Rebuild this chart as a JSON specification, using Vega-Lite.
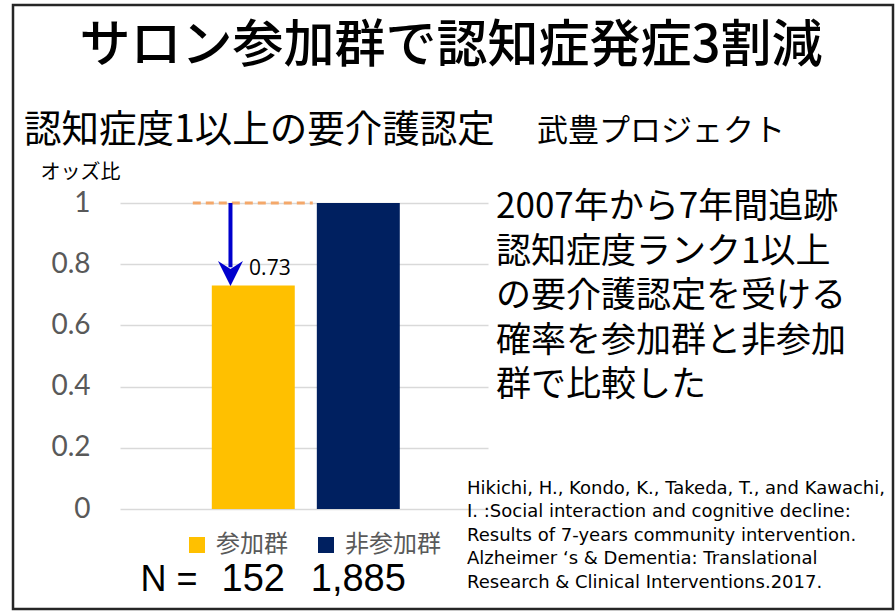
{
  "$schema": "https://vega.github.io/schema/vega-lite/v6.json",
  "autosize": "none",
  "width": 880,
  "height": 604,
  "padding": {"left": 13, "top": 5, "right": 2, "bottom": 2},
  "background": "white",
  "config": {
    "font": "Noto Sans CJK JP",
    "view": {"stroke": "#262626", "strokeWidth": 2.5}
  },
  "data": {"values": [
    {"group": "参加群", "n": "152", "odds": 0.73},
    {"group": "非参加群", "n": "1,885", "odds": 1}
  ]},
  "resolve": {"scale": {"x": "independent", "y": "independent"}},
  "layer": [
    {
      "layer": [
        {
          "mark": {"type": "bar"},
          "encoding": {
            "x": {
              "field": "n", "type": "nominal", "sort": null,
              "scale": {"domain": ["152", "1,885"], "range": [107, 475], "paddingInner": 0.21, "paddingOuter": 0.857, "align": 0.51},
              "axis": {
                "orient": "bottom", "offset": -100, "domain": false, "ticks": false, "grid": false,
                "labelAngle": 0, "labelPadding": 70, "labelBaseline": "middle",
                "labelFont": "Liberation Sans", "labelFontSize": 38, "labelColor": "#000000",
                "title": "N =", "titleFont": "Liberation Sans", "titleFontSize": 36, "titleFontWeight": "normal",
                "titleColor": "#000000", "titleAlign": "left", "titleBaseline": "middle", "titleAnchor": null,
                "titleX": 127, "titleY": 70
              }
            },
            "y": {
              "field": "odds", "type": "quantitative",
              "scale": {"domain": [0, 1], "range": [504, 198], "nice": false},
              "axis": {
                "orient": "left", "offset": -107, "values": [0, 0.2, 0.4, 0.6, 0.8, 1], "format": "~g",
                "domain": false, "ticks": false, "grid": true, "gridColor": "#D9D9D9", "gridWidth": 1.3,
                "labelPadding": 30, "labelFont": "Lato", "labelFontSize": 28, "labelColor": "#595959",
                "title": "オッズ比", "titleAngle": 0, "titleAlign": "left", "titleBaseline": "middle",
                "titleX": -80, "titleY": 167, "titleFont": "Noto Sans CJK JP", "titleFontSize": 20,
                "titleFontWeight": "normal", "titleColor": "#000000"
              }
            },
            "color": {
              "field": "group", "type": "nominal", "sort": null,
              "scale": {"domain": ["参加群", "非参加群"], "range": ["#FFC000", "#002060"]},
              "legend": {
                "orient": "none", "direction": "horizontal", "legendX": 172, "legendY": 528,
                "title": null, "symbolType": "square", "symbolSize": 256, "symbolStrokeWidth": 0,
                "labelFont": "Noto Sans CJK JP", "labelFontSize": 24, "labelColor": "#595959",
                "labelOffset": 7, "columnPadding": 26, "padding": 0
              }
            }
          }
        },
        {
          "data": {"values": [{}]},
          "mark": {"type": "rule", "color": "#F4A86A", "strokeWidth": 3, "strokeDash": [8, 5]},
          "encoding": {
            "x": {"datum": "152", "bandPosition": -0.229},
            "x2": {"datum": "152", "bandPosition": 1.217},
            "y": {"datum": 1}
          }
        },
        {
          "data": {"values": [{}]},
          "mark": {"type": "rule", "color": "#0000CD", "strokeWidth": 4},
          "encoding": {
            "x": {"datum": "152", "bandPosition": 0.225},
            "y": {"datum": 1},
            "y2": {"datum": 0.79}
          }
        },
        {
          "data": {"values": [{}]},
          "mark": {"type": "point", "shape": "M-1,-1L0,-0.35L1,-1L0,1Z", "filled": true, "size": 625, "color": "#0000CD", "opacity": 1},
          "encoding": {
            "x": {"datum": "152", "bandPosition": 0.225},
            "y": {"datum": 0.77}
          }
        },
        {
          "transform": [{"filter": "datum.group === '参加群'"}],
          "mark": {"type": "text", "dy": -17, "fontSize": 21, "font": "Open Sans", "color": "#000000", "baseline": "middle"},
          "encoding": {
            "x": {"field": "n", "type": "nominal", "bandPosition": 0.7},
            "y": {"field": "odds", "type": "quantitative"},
            "text": {"field": "odds", "type": "quantitative", "format": ".2f"}
          }
        }
      ]
    },
    {
      "layer": [
        {
          "data": {"values": [{}]},
          "mark": {"type": "text", "text": "サロン参加群で認知症発症3割減", "align": "center", "baseline": "middle", "fontSize": 51, "fontWeight": 500, "color": "#000000"},
          "encoding": {
            "x": {"datum": 0.4977, "type": "quantitative", "scale": {"domain": [0, 1]}, "axis": null},
            "y": {"datum": 0.0695, "type": "quantitative", "scale": {"domain": [0, 1], "reverse": true}, "axis": null}
          }
        },
        {
          "data": {"values": [{}]},
          "mark": {"type": "text", "text": "認知症度1以上の要介護認定", "align": "left", "baseline": "middle", "fontSize": 37.5, "color": "#000000"},
          "encoding": {
            "x": {"datum": 0.0125, "type": "quantitative"},
            "y": {"datum": 0.2086, "type": "quantitative"}
          }
        },
        {
          "data": {"values": [{}]},
          "mark": {"type": "text", "text": "武豊プロジェクト", "align": "left", "baseline": "middle", "fontSize": 31, "color": "#000000"},
          "encoding": {
            "x": {"datum": 0.5955, "type": "quantitative"},
            "y": {"datum": 0.211, "type": "quantitative"}
          }
        },
        {
          "data": {"values": [{}]},
          "mark": {"type": "text", "text": ["2007年から7年間追跡", "認知症度ランク1以上", "の要介護認定を受ける", "確率を参加群と非参加", "群で比較した"], "align": "left", "baseline": "top", "fontSize": 35, "lineHeight": 44.5, "color": "#000000"},
          "encoding": {
            "x": {"datum": 0.5489, "type": "quantitative"},
            "y": {"datum": 0.3063, "type": "quantitative"}
          }
        },
        {
          "data": {"values": [{}]},
          "mark": {"type": "text", "text": ["Hikichi, H., Kondo, K., Takeda, T., and Kawachi,", "I. :Social interaction and cognitive decline:", "Results of 7-years community intervention.", "Alzheimer ‘s & Dementia: Translational", "Research & Clinical Interventions.2017."], "align": "left", "baseline": "top", "font": "DejaVu Sans", "fontSize": 18, "lineHeight": 23.4, "color": "#000000"},
          "encoding": {
            "x": {"datum": 0.5159, "type": "quantitative"},
            "y": {"datum": 0.7864, "type": "quantitative"}
          }
        }
      ]
    }
  ]
}
